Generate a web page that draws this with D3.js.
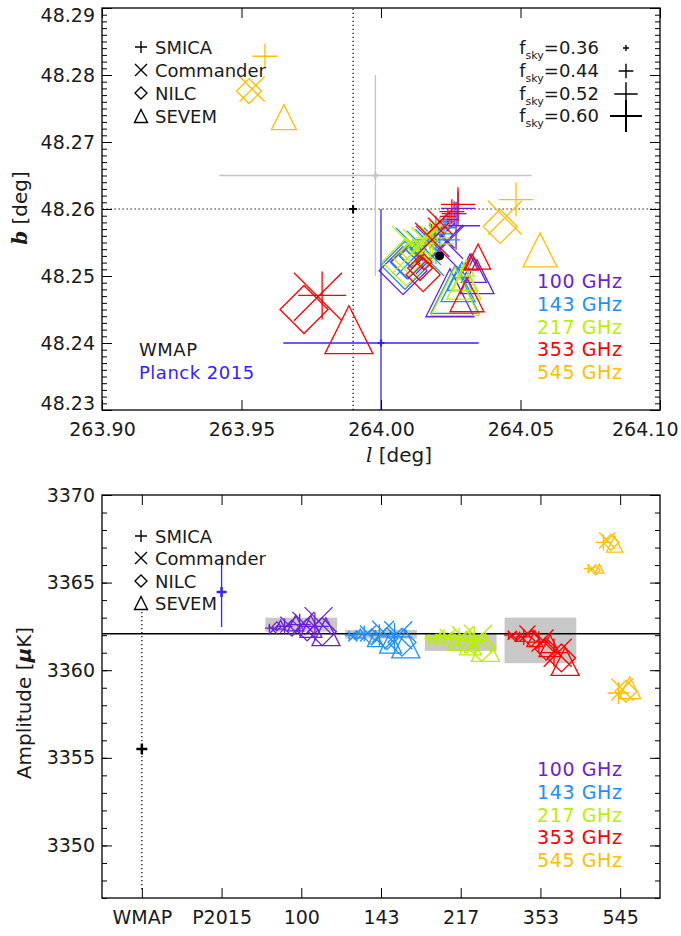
<!DOCTYPE html>
<html><head><meta charset="utf-8">
<script src="https://cdn.jsdelivr.net/npm/d3@7"></script>
<style>
body{margin:0;background:#fff}
svg{display:block}
text{font-family:"DejaVu Sans",sans-serif;fill:#1a1a1a}
</style>
</head><body><svg id="c" width="681" height="936"></svg>
<script>
// ---------- data ----------
const methods = ["SMICA","Commander","NILC","SEVEM"];
const methodSymbols = ["plus","cross","diamond","triangle"];
const freqs = ["100","143","217","353","545"];
const freqLabels = ["100 GHz","143 GHz","217 GHz","353 GHz","545 GHz"];
const freqColors = ["#6a1fd8","#1a90ff","#b8f000","#ff0000","#ffbf00"];
const fskyValues = [0.36,0.44,0.52,0.60];

// Top panel: (l, b) per frequency, ordered method-major (SMICA x4 fsky, Commander x4, NILC x4, SEVEM x4)
const lon100 = [264.0247,264.0262,264.0276,264.0269, 264.0204,264.0219,264.0233,264.0211, 264.0133,264.0111,264.0097,264.0079, 264.0319,264.0333,264.0344,264.0247];
const lat100 = [48.2584,48.2593,48.2601,48.2575, 48.2566,48.2560,48.2551,48.2539, 48.2539,48.2530,48.2521,48.2508, 48.2521,48.2509,48.2499,48.2475];
const lon143 = [264.0233,264.0226,264.0211,264.0197, 264.0183,264.0168,264.0154,264.0140, 264.0118,264.0108,264.0093,264.0086, 264.0290,264.0283,264.0276,264.0265];
const lat143 = [48.2581,48.2572,48.2563,48.2554, 48.2560,48.2551,48.2542,48.2536, 48.2539,48.2532,48.2521,48.2516, 48.2509,48.2497,48.2487,48.2480];
const lon217 = [264.0211,264.0201,264.0186,264.0176, 264.0168,264.0154,264.0140,264.0125, 264.0125,264.0115,264.0104,264.0090, 264.0305,264.0301,264.0297,264.0265];
const lat217 = [48.2575,48.2566,48.2557,48.2548, 48.2563,48.2554,48.2545,48.2539, 48.2542,48.2536,48.2527,48.2521, 48.2512,48.2497,48.2491,48.2477];
const lon353 = [264.0240,264.0254,264.0276,263.9789, 264.0197,264.0211,264.0183,263.9774, 264.0154,264.0140,264.0151,263.9724, 264.0326,264.0348,264.0308,263.9885];
const lat353 = [48.2589,48.2596,48.2607,48.2471, 48.2575,48.2581,48.2554,48.2469, 48.2521,48.2512,48.2502,48.2450, 48.2521,48.2529,48.2472,48.2420];
const lon545 = [null,263.9584,264.0484,null, null,263.9538,264.0444,null, null,263.9527,264.0427,null, null,263.9652,264.0570,null];
const lat545 = [null,48.2828,48.2614,null, null,48.2779,48.2587,null, null,48.2776,48.2574,null, null,48.2737,48.2539,null];

// Bottom panel: dipole amplitude [muK], same ordering
const amp100 = [3362.4,3362.5,3362.6,3362.5, 3362.3,3362.6,3362.7,3362.8, 3362.5,3362.4,3362.3,3362.2, 3362.6,3362.7,3362.5,3362.2];
const amp143 = [3362.0,3362.1,3362.0,3361.9, 3361.9,3362.1,3362.2,3362.0, 3362.0,3361.9,3361.8,3361.6, 3362.1,3361.8,3361.6,3361.5];
const amp217 = [3361.8,3361.9,3361.8,3361.7, 3361.7,3361.9,3361.9,3361.8, 3361.8,3361.7,3361.6,3361.3, 3361.9,3361.6,3361.5,3361.3];
const amp353 = [3362.0,3361.9,3361.6,3361.0, 3362.0,3362.1,3361.7,3361.0, 3361.9,3361.8,3361.2,3360.7, 3361.9,3361.8,3361.4,3360.5];
const amp545 = [3365.8,3367.3,3358.7,null, 3365.8,3367.4,3358.9,null, 3365.7,3367.3,3358.8,null, 3365.8,3367.2,3359.0,null];
// grey bands (range per frequency)
const bandLow  = [3362.2,3361.8,3361.1,3360.4,null];
const bandHigh = [3363.0,3362.3,3362.13,3363.0,null];

const categories = ["WMAP","P2015","100","143","217","353","545"];

// reference results
const wmap = {l:263.99, b:48.26, dl:0.14, db:0.03, amp:3355.5, damp:8};
const p2015 = {l:264.00, b:48.24, dl:0.035, db:0.02, amp:3364.47, damp:2.0};
const grey = {l:263.998, b:48.265, dl:0.056, db:0.015};
const final = {l:264.021, b:48.253, amp:3362.08};

// ticks
const lonMajor = [263.90,263.95,264.00,264.05,264.10];
const latMajor = [48.23,48.24,48.25,48.26,48.27,48.28,48.29];
const latMinor = d3.range(48.230,48.2905,0.001);
const ampMajor = [3350,3355,3360,3365,3370];
const ampMinor = d3.range(3347,3370.5,1);

const lonTop = [lon100,lon143,lon217,lon353,lon545];
const latTop = [lat100,lat143,lat217,lat353,lat545];
const ampBot = [amp100,amp143,amp217,amp353,amp545];

// ---------- drawing ----------
const svg = d3.select("#c");
const L=102, R=660;
const xT = d3.scaleLinear().domain([263.90,264.10]).range([L,R]);
const yT = d3.scaleLinear().domain([48.23,48.29]).range([410,8]);
const xB = d3.scaleLinear().domain([-0.5,6.5]).range([L,R]);
const yB = d3.scaleLinear().domain([3347,3370]).range([898,495]);
const sizeTop = d3.scaleLinear().domain(fskyValues).range([8,12.5,17,24]);
const sizeBot = d3.scaleLinear().domain(fskyValues).range([4.5,8,11,14]);
const sizeLeg = d3.scaleLinear().domain([0.36,0.60]).range([3,16]);
const xOffF = d3.scaleLinear().domain([0.36,0.60]).range([-0.33,0.24]);
const xOffM = d3.scaleLinear().domain([0,3]).range([-0.07,0.07]);

function sym(type,cx,cy,s){
  switch(type){
    case "plus": return `M${cx-s},${cy}H${cx+s}M${cx},${cy-s}V${cy+s}`;
    case "cross": return `M${cx-s},${cy-s}L${cx+s},${cy+s}M${cx-s},${cy+s}L${cx+s},${cy-s}`;
    case "diamond": return `M${cx},${cy-s}L${cx+s},${cy}L${cx},${cy+s}L${cx-s},${cy}Z`;
    case "triangle": return `M${cx-s},${cy+s}L${cx+s},${cy+s}L${cx},${cy-s}Z`;
  }
}

const defs = svg.append("defs");
defs.append("clipPath").attr("id","clipT").append("rect").attr("x",L).attr("y",8).attr("width",R-L).attr("height",402);
defs.append("clipPath").attr("id","clipB").append("rect").attr("x",L).attr("y",495).attr("width",R-L).attr("height",403);

function axes(x,y,xMajor,xMinor,yMajor,yMinor,xFmt,yFmt){
  const g = svg.append("g");
  const [x0,x1]=x.range(); const [yb,yt]=y.range();
  const style = s=>{ s.select(".domain").remove(); s.selectAll("line").attr("stroke","#000").attr("stroke-width",1); s.selectAll("text").attr("font-size",19).attr("fill","#222").attr("font-family","DejaVu Sans, sans-serif"); };
  g.append("g").attr("transform",`translate(0,${yb})`).call(d3.axisBottom(x).tickValues(xMajor).tickSize(-10).tickPadding(13).tickFormat(xFmt)).call(style);
  g.append("g").attr("transform",`translate(0,${yt})`).call(d3.axisTop(x).tickValues(xMajor).tickSize(-10).tickFormat("")).call(style);
  if(xMinor){
    g.append("g").attr("transform",`translate(0,${yb})`).call(d3.axisBottom(x).tickValues(xMinor).tickSize(-5).tickFormat("")).call(style);
    g.append("g").attr("transform",`translate(0,${yt})`).call(d3.axisTop(x).tickValues(xMinor).tickSize(-5).tickFormat("")).call(style);
  }
  const yl = g.append("g").attr("transform",`translate(${x0},0)`).call(d3.axisLeft(y).tickValues(yMajor).tickSize(-10).tickPadding(7).tickFormat(yFmt)).call(style);
  g.append("g").attr("transform",`translate(${x1},0)`).call(d3.axisRight(y).tickValues(yMajor).tickSize(-10).tickFormat("")).call(style);
  g.append("g").attr("transform",`translate(${x0},0)`).call(d3.axisLeft(y).tickValues(yMinor).tickSize(-5).tickFormat("")).call(style);
  g.append("g").attr("transform",`translate(${x1},0)`).call(d3.axisRight(y).tickValues(yMinor).tickSize(-5).tickFormat("")).call(style);
  g.append("rect").attr("x",x0).attr("y",yt).attr("width",x1-x0).attr("height",yb-yt).attr("fill","none").attr("stroke","#000").attr("stroke-width",1.3);
  return yl;
}

// ===== TOP PANEL =====
const gT = svg.append("g").attr("clip-path","url(#clipT)");
const dots = "1.3,2.7";
// WMAP dotted error bars
gT.append("line").attr("x1",xT(wmap.l)).attr("x2",xT(wmap.l)).attr("y1",yT(wmap.b-wmap.db)).attr("y2",yT(wmap.b+wmap.db)).attr("stroke","#000").attr("stroke-width",1.2).attr("stroke-dasharray",dots);
gT.append("line").attr("x1",xT(wmap.l-wmap.dl)).attr("x2",xT(wmap.l+wmap.dl)).attr("y1",yT(wmap.b)).attr("y2",yT(wmap.b)).attr("stroke","#000").attr("stroke-width",1.2).attr("stroke-dasharray",dots);
gT.append("path").attr("d",sym("plus",xT(wmap.l),yT(wmap.b),4)).attr("stroke","#000").attr("stroke-width",2);
// grey
gT.append("line").attr("x1",xT(grey.l)).attr("x2",xT(grey.l)).attr("y1",yT(grey.b-grey.db)).attr("y2",yT(grey.b+grey.db)).attr("stroke","#c4c4c4").attr("stroke-width",1.3);
gT.append("line").attr("x1",xT(grey.l-grey.dl)).attr("x2",xT(grey.l+grey.dl)).attr("y1",yT(grey.b)).attr("y2",yT(grey.b)).attr("stroke","#c4c4c4").attr("stroke-width",1.3);
gT.append("path").attr("d",sym("plus",xT(grey.l),yT(grey.b),3.5)).attr("stroke","#c4c4c4").attr("stroke-width",2.2);
// Planck 2015
gT.append("line").attr("x1",xT(p2015.l)).attr("x2",xT(p2015.l)).attr("y1",yT(p2015.b-p2015.db)).attr("y2",yT(p2015.b+p2015.db)).attr("stroke","#3322ff").attr("stroke-width",1.3);
gT.append("line").attr("x1",xT(p2015.l-p2015.dl)).attr("x2",xT(p2015.l+p2015.dl)).attr("y1",yT(p2015.b)).attr("y2",yT(p2015.b)).attr("stroke","#3322ff").attr("stroke-width",1.3);
gT.append("path").attr("d",sym("plus",xT(p2015.l),yT(p2015.b),3.5)).attr("stroke","#3322ff").attr("stroke-width",2.2);

// markers
freqs.forEach((f,fi)=>{
  const pts=[];
  methods.forEach((m,mi)=>fskyValues.forEach((fs,si)=>{
    const k=mi*4+si; const l=lonTop[fi][k], b=latTop[fi][k];
    if(l!=null&&b!=null) pts.push({mi,fs,l,b});
  }));
  gT.append("g").selectAll("path").data(pts).join("path")
    .attr("d",d=>sym(methodSymbols[d.mi],xT(d.l),yT(d.b),sizeTop(d.fs)))
    .attr("fill","none").attr("stroke",freqColors[fi]).attr("stroke-width",1.3);
});
gT.append("circle").attr("cx",xT(final.l)).attr("cy",yT(final.b)).attr("r",4.5).attr("fill","#000");

const ylT = axes(xT,yT,lonMajor,null,latMajor,latMinor,d3.format(".2f"),d3.format(".2f"));
// end labels kept inside the picture, as in the reference
ylT.selectAll("text").filter(d=>d===48.29).attr("dy","0.72em");
ylT.selectAll("text").filter(d=>d===48.23).attr("dy","-0.05em");
svg.selectAll("text").filter(function(){return this.textContent==="264.10";}).attr("text-anchor","end").attr("x",18);

// top legends
function methodLegend(x,ys){
  methods.forEach((m,i)=>{
    svg.append("path").attr("d",sym(methodSymbols[i],x,ys[i],i===3?6.5:6)).attr("fill","none").attr("stroke","#000").attr("stroke-width",1.4);
    svg.append("text").attr("x",x+14).attr("y",ys[i]+7).attr("font-size",18).text(m);
  });
}
methodLegend(141,[47,70,93,116]);
fskyValues.forEach((fs,i)=>{
  const y=[48,71,94,116][i];
  const t=svg.append("text").attr("x",599).attr("y",y+6).attr("text-anchor","end").attr("font-size",18);
  t.append("tspan").text("f");
  t.append("tspan").attr("dy",5).attr("font-size",11).text("sky");
  t.append("tspan").attr("dy",-5).text("="+fs.toFixed(2));
  svg.append("path").attr("d",sym("plus",626,y,sizeLeg(fs))).attr("stroke","#000").attr("stroke-width",i===3?2:1.4);
});
function freqLegend(x,y0){
  freqLabels.forEach((t,i)=>svg.append("text").attr("x",x).attr("y",y0+i*22.8+7).attr("font-size",19).attr("letter-spacing",0.6).style("fill",freqColors[i]).text(t));
}
freqLegend(537,281);
svg.append("text").attr("x",139).attr("y",356).attr("font-size",18).attr("letter-spacing",0.5).text("WMAP");
svg.append("text").attr("x",139).attr("y",379).attr("font-size",18).attr("letter-spacing",0.5).style("fill","#3322ff").text("Planck 2015");

// axis titles
const tx = svg.append("text").attr("x",366).attr("y",462).attr("font-size",20);
tx.append("tspan").attr("font-style","italic").attr("font-family","DejaVu Serif").text("l");
tx.append("tspan").text(" [deg]");
const ty = svg.append("text").attr("transform","translate(27,208) rotate(-90)").attr("text-anchor","middle").attr("font-size",20);
ty.append("tspan").attr("font-style","italic").attr("font-family","DejaVu Serif").attr("font-weight","bold").text("b");
ty.append("tspan").text(" [deg]");

// ===== BOTTOM PANEL =====
const gB = svg.append("g").attr("clip-path","url(#clipB)");
freqs.forEach((f,fi)=>{
  if(bandLow[fi]==null) return;
  gB.append("rect").attr("x",xB(fi+2-0.45)).attr("width",xB(0.9)-xB(0)).attr("y",yB(bandHigh[fi])).attr("height",yB(bandLow[fi])-yB(bandHigh[fi])).attr("fill","#c8c8c8");
});
gB.append("line").attr("x1",L).attr("x2",R).attr("y1",yB(final.amp)).attr("y2",yB(final.amp)).attr("stroke","#000").attr("stroke-width",1.3);
// WMAP
gB.append("line").attr("x1",xB(0)).attr("x2",xB(0)).attr("y1",yB(wmap.amp-wmap.damp)).attr("y2",yB(wmap.amp+wmap.damp)).attr("stroke","#000").attr("stroke-width",1.2).attr("stroke-dasharray",dots);
gB.append("path").attr("d",sym("plus",xB(0),yB(wmap.amp),5.5)).attr("stroke","#000").attr("stroke-width",2.5);
// P2015
gB.append("line").attr("x1",xB(1)).attr("x2",xB(1)).attr("y1",yB(p2015.amp-p2015.damp)).attr("y2",yB(p2015.amp+p2015.damp)).attr("stroke","#3322ff").attr("stroke-width",1.3);
gB.append("path").attr("d",sym("plus",xB(1),yB(p2015.amp),5)).attr("stroke","#3322ff").attr("stroke-width",2.5);
freqs.forEach((f,fi)=>{
  const pts=[];
  methods.forEach((m,mi)=>fskyValues.forEach((fs,si)=>{
    const a=ampBot[fi][mi*4+si]; if(a!=null) pts.push({mi,fs,a});
  }));
  gB.append("g").selectAll("path").data(pts).join("path")
    .attr("d",d=>sym(methodSymbols[d.mi],xB(fi+2+xOffF(d.fs)+xOffM(d.mi)),yB(d.a),sizeBot(d.fs)))
    .attr("fill","none").attr("stroke",freqColors[fi]).attr("stroke-width",1.3);
});
axes(xB,yB,d3.range(0,7),null,ampMajor,ampMinor,i=>categories[i],d3.format("d"));
methodLegend(141,[536,558,581,603]);
freqLegend(537,769);
const tb = svg.append("text").attr("transform","translate(31,703) rotate(-90)").attr("text-anchor","middle").attr("font-size",20);
tb.append("tspan").text("Amplitude [");
tb.append("tspan").attr("font-style","italic").attr("font-weight","bold").text("μ");
tb.append("tspan").text("K]");
</script>
</body></html>
